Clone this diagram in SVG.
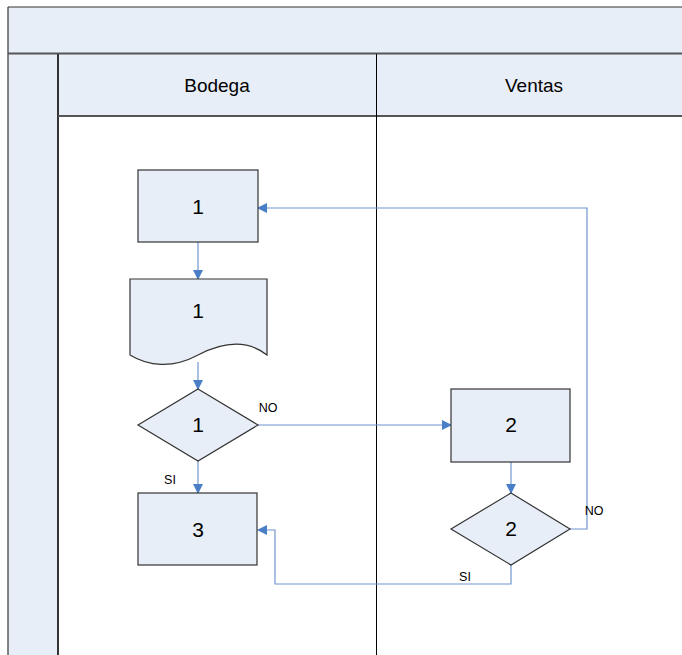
<svg xmlns="http://www.w3.org/2000/svg" width="682" height="655" viewBox="0 0 682 655">
<style>
.band{fill:#E8EEF7;}
.shape{fill:#E8EEF7;stroke:#333333;stroke-width:1.2;}
.lbl{font-family:"Liberation Sans",Arial,sans-serif;fill:#000;text-anchor:middle;}
.num{font-size:21px;}
.hdr{font-size:19px;}
.small{font-size:12.5px;}
.conn{fill:none;stroke:#6F96CF;stroke-width:1.2;}
</style>
<defs>
<marker id="arr" markerWidth="10" markerHeight="10" refX="9" refY="5" orient="auto" markerUnits="userSpaceOnUse">
<path d="M0,0 L10,5 L0,10 Z" fill="#4A7EC7"/>
</marker>
</defs>
<rect x="0" y="0" width="682" height="655" fill="#ffffff"/>
<g id="pool">
<rect class="band" x="8" y="7" width="680" height="47"/>
<line x1="8" y1="7" x2="682" y2="7" stroke="#333" stroke-width="1.2"/>
<rect class="band" x="8" y="54" width="50" height="601"/>
<rect class="band" x="58" y="54" width="624" height="62"/>
<line x1="8" y1="7" x2="8" y2="655" stroke="#333" stroke-width="1.2"/>
<line x1="8" y1="53.5" x2="682" y2="53.5" stroke="#555" stroke-width="2"/>
<line x1="58" y1="54" x2="58" y2="655" stroke="#333" stroke-width="2"/>
<line x1="58" y1="116" x2="682" y2="116" stroke="#555" stroke-width="2"/>
<line x1="376.5" y1="54" x2="376.5" y2="655" stroke="#000" stroke-width="1"/>
</g>
<g id="lane-bodega"><text class="lbl hdr" x="217" y="92">Bodega</text></g>
<g id="lane-ventas"><text class="lbl hdr" x="534" y="92">Ventas</text></g>
<g id="connectors">
<line class="conn" x1="198" y1="242" x2="198" y2="279" marker-end="url(#arr)"/>
<line class="conn" x1="198" y1="362" x2="198" y2="389" marker-end="url(#arr)"/>
<line class="conn" x1="258" y1="425" x2="451" y2="425" marker-end="url(#arr)"/>
<line class="conn" x1="198" y1="461" x2="198" y2="493" marker-end="url(#arr)"/>
<line class="conn" x1="511" y1="462" x2="511" y2="493" marker-end="url(#arr)"/>
<polyline class="conn" points="570,529 587,529 587,208 258,208" marker-end="url(#arr)"/>
<polyline class="conn" points="511,565 511,584 275,584 275,530 258,530" marker-end="url(#arr)"/>
<text class="lbl small" x="268" y="412">NO</text>
<text class="lbl small" x="170" y="484">SI</text>
<text class="lbl small" x="594" y="515">NO</text>
<text class="lbl small" x="465" y="581">SI</text>
</g>
<g id="process-1">
<rect class="shape" x="138" y="170" width="120" height="72"/>
<text class="lbl num" x="198" y="214">1</text>
</g>
<g id="document-1">
<path class="shape" d="M130,279 H267 V355 C248,340 225,341 198,355 C172,369 148,366 130,355 Z"/>
<text class="lbl num" x="198" y="318">1</text>
</g>
<g id="decision-1">
<polygon class="shape" points="198,389 258,425 198,461 138,425"/>
<text class="lbl num" x="198" y="432">1</text>
</g>
<g id="process-3">
<rect class="shape" x="138" y="493" width="119" height="72"/>
<text class="lbl num" x="198" y="537">3</text>
</g>
<g id="process-2">
<rect class="shape" x="451" y="389" width="119" height="73"/>
<text class="lbl num" x="511" y="432">2</text>
</g>
<g id="decision-2">
<polygon class="shape" points="511,493 570,529 511,565 451,529"/>
<text class="lbl num" x="511" y="536">2</text>
</g>
</svg>
